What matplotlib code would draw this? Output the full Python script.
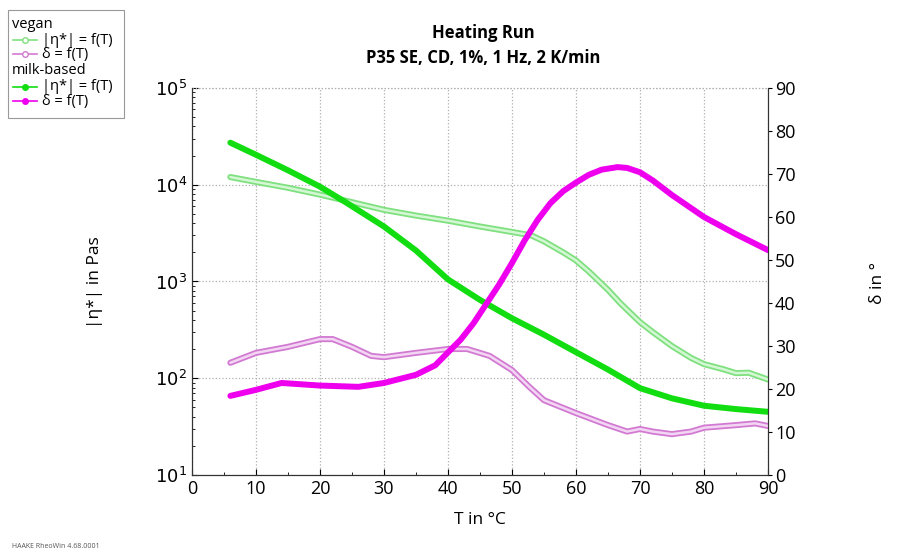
import numpy as np
import matplotlib.pyplot as plt
from matplotlib.lines import Line2D
from matplotlib.patches import Rectangle
from matplotlib.ticker import FixedLocator, NullFormatter

plt.rcParams['font.family'] = ['Open Sans', 'DejaVu Sans']

# milk-based |eta*| in Pas
milk_eta_T = [6, 10, 15, 20, 24, 30, 35, 40, 45, 50, 55, 60, 65, 70, 75, 80, 85, 90]
milk_eta = [27200, 20400, 14100, 9550, 6600, 3700, 2090, 1050, 645, 417,
            282, 186, 123, 79, 62, 52, 48, 45]

# vegan |eta*| in Pas
vegan_eta_T = [6, 10, 15, 20, 25, 30, 35, 40, 45, 50, 53, 55, 58, 60, 62,
               65, 67, 70, 72, 75, 78, 80, 83, 85, 87, 90]
vegan_eta = [12000, 10700, 9300, 7900, 6600, 5500, 4800, 4250, 3700, 3250,
             3000, 2600, 2000, 1650, 1270, 820, 590, 380, 300, 215, 162,
             140, 124, 113, 114, 97]

# milk-based delta in degrees
milk_delta_T = [6, 10, 14, 20, 26, 30, 35, 38, 40, 42, 44, 46, 48, 50, 52,
                54, 56, 58, 60, 62, 64, 66.5, 68, 70, 72, 75, 80, 85, 90]
milk_delta = [18.4, 19.8, 21.4, 20.8, 20.5, 21.4, 23.3, 25.5, 28.5, 31.5, 35.3,
              39.8, 44.3, 49.3, 54.6, 59.3, 63.2, 66, 68, 69.8, 71, 71.6, 71.4, 70.4,
              68.5, 65.1, 60, 56, 52.3]

# vegan delta in degrees
vegan_delta_T = [6, 10, 15, 20, 22, 25, 28, 30, 35, 40, 43, 46.5, 50, 52.7,
                 55, 60, 65, 68, 70, 72, 75, 78, 80, 85, 88, 90]
vegan_delta = [26.1, 28.4, 29.8, 31.6, 31.6, 29.8, 27.7, 27.4, 28.4, 29.3,
               29.3, 27.7, 24.4, 20.5, 17.4, 14.4, 11.6, 10.1, 10.7, 10.1,
               9.5, 10.1, 11, 11.6, 12, 11.4]

GREEN = '#11dd11'
MAGENTA = '#ee00ee'
LGREEN = '#7fe07f'
LGREEN_IN = '#d4f7d4'
LMAG = '#d27ad2'
LMAG_IN = '#f3d6f3'
TICK_SIZE = 13
LABEL_SIZE = 12.5

fig = plt.figure(figsize=(9, 5.54), dpi=100)
ax = fig.add_axes([0.2133, 0.1426, 0.64, 0.6986])
ax2 = ax.twinx()

rnd = dict(solid_capstyle='round', solid_joinstyle='round')

# eta curves on left log axis
ax.plot(vegan_eta_T, vegan_eta, color=LGREEN, lw=4.4, zorder=3, **rnd)
ax.plot(vegan_eta_T, vegan_eta, color=LGREEN_IN, lw=1.8, zorder=3, **rnd)
ax.plot(milk_eta_T, milk_eta, color=GREEN, lw=4.3, zorder=4, **rnd)

# delta curves on right axis
ax2.plot(vegan_delta_T, vegan_delta, color=LMAG, lw=4.4, **rnd)
ax2.plot(vegan_delta_T, vegan_delta, color=LMAG_IN, lw=1.8, **rnd)
ax2.plot(milk_delta_T, milk_delta, color=MAGENTA, lw=4.3, **rnd)

ax.set_yscale('log')
ax.set_ylim(10, 1e5)
ax.set_xlim(0, 90)
ax2.set_ylim(0, 90)

ax.set_xticks(np.arange(0, 91, 10))
ax.xaxis.set_minor_locator(FixedLocator(np.arange(5, 90, 10)))
ax.set_yticks([10, 100, 1000, 1e4, 1e5])
ax.set_yticklabels([r'$10^{1}$', r'$10^{2}$', r'$10^{3}$', r'$10^{4}$', r'$10^{5}$'])
ax.yaxis.set_minor_formatter(NullFormatter())
ax2.set_yticks(np.arange(0, 91, 10))

ax.tick_params(axis='both', which='major', labelsize=TICK_SIZE, direction='in', length=4)
ax.tick_params(axis='both', which='minor', direction='in', length=2.5)
ax2.tick_params(axis='y', labelsize=TICK_SIZE, direction='out', length=3, pad=2)

ax.grid(True, which='major', color='#b0b0b0', linestyle=':', linewidth=0.9)
for a in (ax, ax2):
    a.spines['top'].set_visible(False)
    a.spines['left'].set_color('#333333')
    a.spines['bottom'].set_color('#333333')
    a.spines['right'].set_color('#333333')
ax.axhline(1e5, color='#b0b0b0', linestyle=':', linewidth=0.9, clip_on=False)

ax.set_xlabel('T in °C', fontsize=LABEL_SIZE, labelpad=10)
fig.text(0.106, 0.49, '|η*| in Pas', rotation=90, ha='center', va='center', fontsize=LABEL_SIZE)
fig.text(0.975, 0.49, 'δ in °', rotation=90, ha='center', va='center', fontsize=LABEL_SIZE)

fig.text(0.537, 0.94, 'Heating Run', ha='center', va='center', fontsize=12, fontweight='bold')
fig.text(0.537, 0.895, 'P35 SE, CD, 1%, 1 Hz, 2 K/min', ha='center', va='center',
         fontsize=12, fontweight='bold')

fig.text(0.013, 0.011, 'HAAKE RheoWin 4.68.0001', fontsize=5, color='#555555')

# legend box drawn by hand (group headers flush left)
W, H = 900.0, 554.0
fig.patches.append(Rectangle((8 / W, 1 - 118 / H), 116 / W, 108 / H, transform=fig.transFigure,
                             facecolor='white', edgecolor='#999999', lw=0.8))
rows = [
    ('vegan', None, None, None),
    ('|η*| = f(T)', LGREEN, LGREEN_IN, False),
    ('δ = f(T)', LMAG, LMAG_IN, False),
    ('milk-based', None, None, None),
    ('|η*| = f(T)', GREEN, GREEN, True),
    ('δ = f(T)', MAGENTA, MAGENTA, True),
]
ys = [24, 40, 54, 71, 87, 101]
for (label, c, cin, filled), y in zip(rows, ys):
    yf = 1 - y / H
    if c is None:
        fig.text(12 / W, yf, label, fontsize=10.5, va='center', ha='left')
        continue
    fig.lines.append(Line2D([13 / W, 37 / W], [yf, yf], transform=fig.transFigure,
                            color=c, lw=1.2))
    fig.lines.append(Line2D([25 / W], [yf], transform=fig.transFigure, marker='o',
                            markersize=4, markeredgecolor=c,
                            markerfacecolor=c if filled else 'white', lw=0))
    fig.text(42 / W, yf, label, fontsize=10.5, va='center', ha='left')

fig.savefig('out.png', dpi=100)
